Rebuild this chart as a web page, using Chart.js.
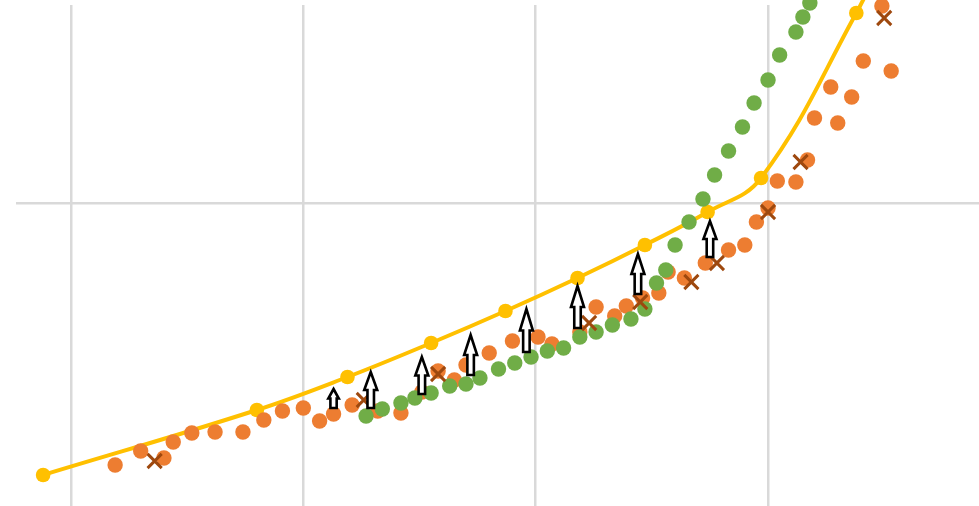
<!DOCTYPE html>
<html>
<head>
<meta charset="utf-8">
<script src="https://cdn.jsdelivr.net/npm/chart.js@4.4.1/dist/chart.umd.min.js"></script>
<style>
  html, body { margin: 0; padding: 0; background: #ffffff; }
  canvas { display: block; }
</style>
</head>
<body>
<canvas id="chart" width="979" height="506"></canvas>
<script>
// Grid positions on each axis
const xGrid = [0, 10, 20, 30];
const yGrid = [100];

// Smoothed trend line (yellow)
const trendX = [-1.2, 8.0, 11.9, 15.5, 18.7, 21.8, 24.7, 27.4, 29.7, 33.8, 35.0];
const trendY = [72.8, 79.3, 82.6, 86.0, 89.2, 92.5, 95.8, 99.1, 102.5, 119.0, 124.8];

// Orange observations
const orangeX = [1.9, 3.0, 4.0, 4.4, 5.2, 6.2, 7.4, 8.3, 9.1, 10.0, 10.7, 11.3, 12.1, 13.2, 14.2,
                 15.1, 15.8, 16.5, 17.0, 18.0, 19.0, 20.1, 20.7, 21.9, 22.6, 23.4, 23.9, 24.6, 25.3,
                 25.7, 26.4, 27.3, 28.3, 29.0, 29.5, 30.0, 30.4, 31.2, 31.7, 32.0, 32.7, 33.0, 33.6,
                 34.1, 34.9, 35.3, 35.9];
const orangeY = [73.8, 75.2, 74.5, 76.1, 77.0, 77.1, 77.1, 78.3, 79.2, 79.5, 78.2, 78.9, 79.8, 79.2, 79.0,
                 81.1, 83.2, 82.3, 83.8, 85.0, 86.2, 86.6, 85.9, 87.1, 89.6, 88.7, 89.7, 90.5, 91.0,
                 93.1, 92.5, 94.0, 95.3, 95.8, 98.1, 99.5, 102.2, 102.1, 104.3, 108.5, 111.6, 108.0, 110.6,
                 114.2, 119.7, 113.2, 120.7];

// Green observations
const greenX = [12.7, 13.4, 14.2, 14.8, 15.5, 16.3, 17.0, 17.6, 18.4, 19.1, 19.8, 20.5, 21.2, 21.9, 22.6,
                23.3, 24.1, 24.7, 25.2, 25.6, 26.0, 26.6, 27.2, 27.7, 28.3, 28.9, 29.4, 30.0, 30.5,
                31.2, 31.5, 31.8];
const greenY = [78.7, 79.4, 80.0, 80.5, 81.0, 81.7, 81.9, 82.5, 83.4, 84.0, 84.6, 85.2, 85.5, 86.6, 87.1,
                87.8, 88.4, 89.4, 92.0, 93.3, 95.8, 98.1, 100.4, 102.8, 105.2, 107.6, 110.0, 112.3, 114.8,
                117.1, 118.6, 120.0];

// Marked points (brown crosses)
const markX = [3.6, 12.6, 15.8, 22.3, 24.5, 26.7, 27.8, 30.0, 31.4, 35.0];
const markY = [74.2, 80.3, 82.9, 88.0, 90.1, 92.1, 94.0, 99.1, 104.1, 118.5];

// Upward arrows: position, start and end values
const arrowX    = [11.3, 12.9, 15.1, 17.2, 19.6, 21.8, 24.4, 27.5];
const arrowFrom = [79.5, 79.5, 80.9, 82.8, 85.1, 87.5, 90.9, 94.6];
const arrowTo   = [81.4, 83.1, 84.6, 86.8, 89.4, 91.7, 94.9, 98.2];

const toPoints = (xs, ys) => xs.map((x, i) => ({ x: x, y: ys[i] }));

// Draws block arrows (white fill, black outline) from the arrow arrays
const arrowPlugin = {
  id: 'blockArrows',
  afterDatasetsDraw(chart) {
    const ctx = chart.ctx;
    const xs = chart.scales.x, ys = chart.scales.y;
    ctx.save();
    ctx.lineJoin = 'miter';
    ctx.lineWidth = 2.6;
    ctx.strokeStyle = '#000000';
    ctx.fillStyle = '#ffffff';
    arrowX.forEach((v, i) => {
      const cx = xs.getPixelForValue(v);
      const yb = ys.getPixelForValue(arrowFrom[i]);
      const yt = ys.getPixelForValue(arrowTo[i]);
      const len = yb - yt;
      const headH = len * 0.5;
      const headW = Math.min(13, len * 0.55);
      const shaftW = Math.min(6.5, len * 0.33);
      ctx.beginPath();
      ctx.moveTo(cx, yt);
      ctx.lineTo(cx + headW / 2, yt + headH);
      ctx.lineTo(cx + shaftW / 2, yt + headH);
      ctx.lineTo(cx + shaftW / 2, yb);
      ctx.lineTo(cx - shaftW / 2, yb);
      ctx.lineTo(cx - shaftW / 2, yt + headH);
      ctx.lineTo(cx - headW / 2, yt + headH);
      ctx.closePath();
      ctx.fill();
      ctx.stroke();
    });
    ctx.restore();
  }
};

new Chart(document.getElementById('chart'), {
  type: 'scatter',
  data: {
    datasets: [
      {
        data: toPoints(markX, markY),
        order: 0,
        pointStyle: 'crossRot',
        pointRadius: 10,
        pointHoverRadius: 10,
        borderColor: '#9E480E',
        pointBorderWidth: 3,
        pointHoverBorderWidth: 3,
        clip: false
      },
      {
        data: toPoints(greenX, greenY),
        order: 1,
        backgroundColor: '#70AD47',
        borderColor: '#70AD47',
        pointRadius: 7.7,
        pointHoverRadius: 7.7,
        pointBorderWidth: 0,
        clip: false
      },
      {
        data: toPoints(orangeX, orangeY),
        order: 2,
        backgroundColor: '#ED7D31',
        borderColor: '#ED7D31',
        pointRadius: 7.7,
        pointHoverRadius: 7.7,
        pointBorderWidth: 0,
        clip: false
      },
      {
        data: toPoints(trendX, trendY),
        order: 3,
        showLine: true,
        tension: 0.4,
        borderColor: '#FFC000',
        backgroundColor: '#FFC000',
        borderWidth: 4,
        pointRadius: 7.3,
        pointHoverRadius: 7.3,
        pointBorderWidth: 0,
        clip: false
      }
    ]
  },
  options: {
    responsive: false,
    devicePixelRatio: 1,
    animation: false,
    events: [],
    layout: { autoPadding: false, padding: { left: 16, top: 5, right: 0, bottom: 0 } },
    plugins: { legend: { display: false }, tooltip: { enabled: false } },
    scales: {
      x: {
        type: 'linear',
        min: -2.367,
        max: 39.08,
        afterBuildTicks: s => { s.ticks = xGrid.map(v => ({ value: v })); },
        ticks: { display: false },
        border: { display: false },
        grid: { color: '#D9D9D9', lineWidth: 2.5, drawTicks: false }
      },
      y: {
        type: 'linear',
        min: 69.7,
        max: 119.8,
        afterBuildTicks: s => { s.ticks = yGrid.map(v => ({ value: v })); },
        ticks: { display: false },
        border: { display: false },
        grid: { color: '#D9D9D9', lineWidth: 2.5, drawTicks: false }
      }
    }
  },
  plugins: [arrowPlugin]
});
</script>
</body>
</html>
